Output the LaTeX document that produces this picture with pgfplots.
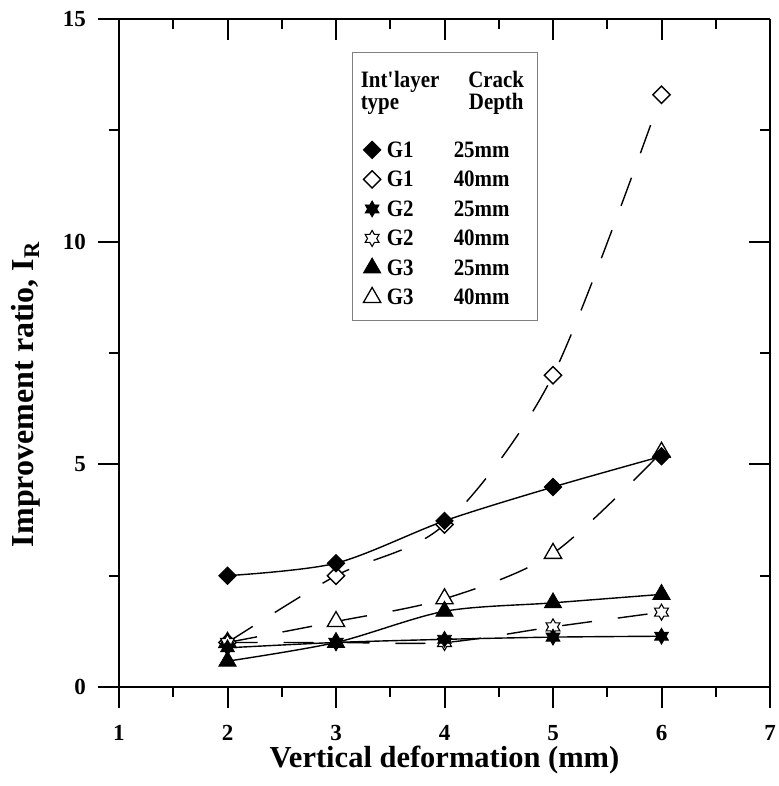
\documentclass[border=0pt]{standalone}
\usepackage{pgfplots}
\pgfplotsset{compat=1.18}
\usepackage{fontspec}
\setmainfont{Liberation Serif}
\newfontfamily\legfont{Liberation Serif}[FakeStretch=0.89]

\pgfdeclareplotmark{hexstar}{%
  \pgfpathmoveto{\pgfpointpolar{90}{\pgfplotmarksize}}%
  \pgfpathlineto{\pgfpointpolar{120}{0.57735\pgfplotmarksize}}%
  \pgfpathlineto{\pgfpointpolar{150}{\pgfplotmarksize}}%
  \pgfpathlineto{\pgfpointpolar{180}{0.57735\pgfplotmarksize}}%
  \pgfpathlineto{\pgfpointpolar{210}{\pgfplotmarksize}}%
  \pgfpathlineto{\pgfpointpolar{240}{0.57735\pgfplotmarksize}}%
  \pgfpathlineto{\pgfpointpolar{270}{\pgfplotmarksize}}%
  \pgfpathlineto{\pgfpointpolar{300}{0.57735\pgfplotmarksize}}%
  \pgfpathlineto{\pgfpointpolar{330}{\pgfplotmarksize}}%
  \pgfpathlineto{\pgfpointpolar{0}{0.57735\pgfplotmarksize}}%
  \pgfpathlineto{\pgfpointpolar{30}{\pgfplotmarksize}}%
  \pgfpathlineto{\pgfpointpolar{60}{0.57735\pgfplotmarksize}}%
  \pgfpathclose
  \pgfusepathqfillstroke
}

\pgfplotsset{
  common/.style={
    scale only axis, width=651bp, height=668bp,
    xmin=1, xmax=7, ymin=0, ymax=15,
    xtick={1,2,3,4,5,6,7}, ytick={0,5,10,15},
    minor x tick num=1, minor y tick num=1,
    major tick length=21bp, minor tick length=10bp,
    every tick/.style={black, line width=2bp},
    axis line style={-, line width=2bp, black},
  },
  solidline/.style={black, line width=1.4bp, smooth},
  dashline/.style={black, line width=1.4bp, smooth, dash pattern=on 30bp off 26bp},
  mdiamf/.style={mark=square*, mark size=6.1bp, mark options={solid, rotate=45, fill=black, line width=1bp}},
  mdiamo/.style={mark=square*, mark size=6.1bp, mark options={solid, rotate=45, fill=white, line width=1.4bp}},
  mstarf/.style={mark=hexstar, mark size=8bp, mark options={solid, fill=black, line width=0.8bp}},
  mstaro/.style={mark=hexstar, mark size=8bp, mark options={solid, fill=white, line width=1.1bp}},
  mtrif/.style={mark=triangle*, mark size=10bp, mark options={solid, fill=black, line width=0.8bp}},
  mtrio/.style={mark=triangle*, mark size=10bp, mark options={solid, fill=white, line width=1.3bp}},
}
\newcommand{\rowstrut}{\rule[-7.45bp]{0pt}{29.5bp}}

\begin{document}
\begin{tikzpicture}
\begin{axis}[common, name=main,
  axis x line*=bottom, axis y line*=left, tick align=outside,
  /pgf/number format/assume math mode=true,
  tick label style={font=\fontsize{23bp}{23bp}\selectfont\bfseries},
  xticklabel style={inner sep=0bp, yshift=-17bp},
  yticklabel style={xshift=-8.7bp},
  xlabel={Vertical deformation (mm)},
  xlabel style={font=\fontsize{30.5bp}{30.5bp}\selectfont\bfseries, inner sep=0bp, at={(axis description cs:0.5,0)}, anchor=base, yshift=-80bp},
  ylabel={Improvement ratio, I\textsubscript{R}},
  ylabel style={font=\fontsize{32bp}{32bp}\selectfont\bfseries, at={(axis description cs:-0.132,0.4378)}, anchor=base},
  legend cell align=left,
  legend style={at={(axis description cs:0.358,0.9506)}, anchor=north west,
    draw=gray, line width=0.8bp, fill=white,
    font=\legfont\bfseries\fontsize{23.5bp}{19.5bp}\selectfont,
    inner xsep=11bp, inner ysep=8bp, row sep=0bp,
    nodes={inner sep=0bp, text depth=},
    /tikz/every odd column/.append style={column sep=6bp}},
]
% G1 40mm (dashed, open diamond)
\addplot[dashline, mdiamo, forget plot] coordinates {(2,1.0) (3,2.5) (4,3.65) (5,7.0) (6,13.3)};
% G3 40mm (dashed, open triangle)
\addplot[dashline, mtrio, forget plot] coordinates {(2,1.0) (3,1.47) (4,1.98) (5,3.0) (6,5.27)};
% G2 40mm (dashed, open star)
\addplot[dashline, mstaro, forget plot] coordinates {(2,1.0) (3,1.0) (4,1.0) (5,1.35) (6,1.68)};
% G1 25mm (solid, filled diamond)
\addplot[solidline, mdiamf, forget plot] coordinates {(2,2.5) (3,2.78) (4,3.73) (5,4.49) (6,5.18)};
% G2 25mm (solid, filled star)
\addplot[solidline, mstarf, forget plot] coordinates {(2,0.88) (3,1.0) (4,1.07) (5,1.12) (6,1.14)};
% G3 25mm (solid, filled triangle)
\addplot[solidline, mtrif, forget plot] coordinates {(2,0.58) (3,1.0) (4,1.7) (5,1.89) (6,2.08)};

\addlegendimage{empty legend}
\addlegendentry{\hspace*{-26bp}\begin{tabular}[b]{@{}l@{\hspace{29bp}}c@{\hspace{2bp}}}\rule{0pt}{26.7bp}Int\textquotesingle layer & Crack\\ type\rule[-25.95bp]{0pt}{0pt} & Depth\end{tabular}}
\addlegendimage{only marks, mdiamf}
\addlegendentry{\rowstrut\makebox[67bp][l]{G1}25mm}
\addlegendimage{only marks, mdiamo}
\addlegendentry{\rowstrut\makebox[67bp][l]{G1}40mm}
\addlegendimage{only marks, mstarf}
\addlegendentry{\rowstrut\makebox[67bp][l]{G2}25mm}
\addlegendimage{only marks, mstaro}
\addlegendentry{\rowstrut\makebox[67bp][l]{G2}40mm}
\addlegendimage{only marks, mtrif}
\addlegendentry{\rowstrut\makebox[67bp][l]{G3}25mm}
\addlegendimage{only marks, mtrio}
\addlegendentry{\rowstrut\makebox[67bp][l]{G3}40mm}
\end{axis}
\begin{axis}[common, at={(main.south west)}, anchor=south west,
  axis x line*=top, axis y line*=right, tick align=inside,
  xticklabels={}, yticklabels={}]
\end{axis}
\pgfresetboundingbox
\path[use as bounding box] ([xshift=-119bp,yshift=-99bp]main.south west) rectangle ([xshift=9bp,yshift=19bp]main.north east);
\end{tikzpicture}
\end{document}
